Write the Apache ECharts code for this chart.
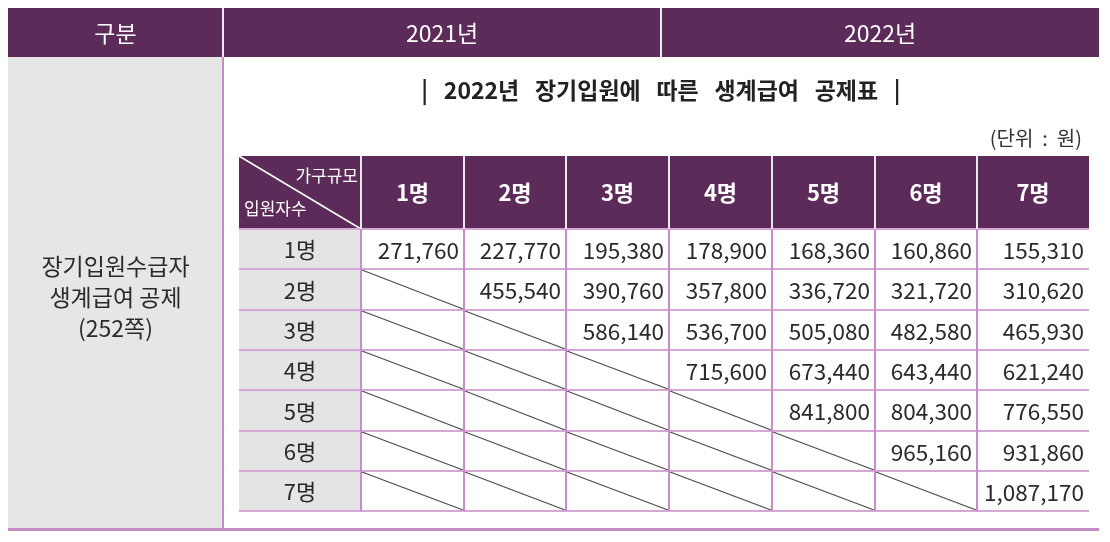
<!DOCTYPE html>
<html><head><meta charset="utf-8">
<script src="https://cdn.jsdelivr.net/npm/echarts@6/dist/echarts.min.js"></script>
<style>html,body{margin:0;padding:0;background:#fff}#chart{width:1110px;height:542px}</style>
</head><body><div id="chart"></div>
<script>
// ---------- data ----------
const sectionHeaders = ['구분', '2021년', '2022년'];
const sectionLabel = ['장기입원수급자', '생계급여 공제', '(252쪽)'];
const tableTitle = '|   2022년   장기입원에   따른   생계급여   공제표   |';
const unitLabel = '(단위  :  원)';
const cornerLabels = ['가구규모', '입원자수'];
const householdSizes = ['1명', '2명', '3명', '4명', '5명', '6명', '7명'];
const inpatientCounts = ['1명', '2명', '3명', '4명', '5명', '6명', '7명'];
const inpatient1 = [271760, 227770, 195380, 178900, 168360, 160860, 155310];
const inpatient2 = [null, 455540, 390760, 357800, 336720, 321720, 310620];
const inpatient3 = [null, null, 586140, 536700, 505080, 482580, 465930];
const inpatient4 = [null, null, null, 715600, 673440, 643440, 621240];
const inpatient5 = [null, null, null, null, 841800, 804300, 776550];
const inpatient6 = [null, null, null, null, null, 965160, 931860];
const inpatient7 = [null, null, null, null, null, null, 1087170];
const deductionRows = [inpatient1, inpatient2, inpatient3, inpatient4, inpatient5, inpatient6, inpatient7];

// ---------- style / layout ----------
const PURPLE = '#5C2B59', GRAY = '#E6E6E7', PINK = '#C98CCB', PINK_H = '#D6A6D7', TEXT = '#2A2A2A';
const FONT = '"Noto Sans CJK KR", "Noto Sans", sans-serif';
const outerColW = [215, 438, 438];
const outerRowH = [49, 474];
const colW = [122, 102.7, 102.7, 102.7, 102.7, 102.7, 102.7, 112];
const rowH = [73, 40.3, 40.3, 40.3, 40.3, 40.3, 40.3, 40.3];
function edges(w) { const e = [0]; w.forEach(v => e.push(e[e.length - 1] + v)); return e; }
const oc = edges(outerColW), orw = edges(outerRowH);
const ce = edges(colW), re = edges(rowH);

// ---------- outer frame items ----------
const outerItems = [];
sectionHeaders.forEach((t, i) => outerItems.push({ kind: 'section', col: i, row: 0, text: t }));
outerItems.push({ kind: 'side', col: 0, row: 1, text: sectionLabel.join('\n') });
outerItems.push({ kind: 'bottom', col: 0, row: 1 });

function renderOuter(params, api) {
  const it = outerItems[params.dataIndex];
  const c = api.value(0), r = api.value(1);
  const ch = [];
  if (it.kind === 'section') {
    const p0 = api.coord([oc[c], orw[r]]), p1 = api.coord([oc[c + 1], orw[r + 1]]);
    ch.push({ type: 'rect', shape: { x: p0[0], y: p0[1], width: p1[0] - p0[0], height: p1[1] - p0[1] }, style: { fill: PURPLE }, z2: 0 });
    if (c > 0) ch.push({ type: 'line', shape: { x1: p0[0], y1: p0[1], x2: p0[0], y2: p1[1] }, style: { stroke: '#F2ECF2', lineWidth: 2 }, z2: 5 });
    ch.push({ type: 'text', style: { text: it.text, x: (p0[0] + p1[0]) / 2, y: (p0[1] + p1[1]) / 2 + 1, align: 'center', verticalAlign: 'middle', fill: '#FFFFFF', fontSize: 23, fontFamily: FONT }, z2: 10 });
  } else if (it.kind === 'side') {
    const p0 = api.coord([oc[0], orw[1]]), p1 = api.coord([oc[1], orw[2]]);
    ch.push({ type: 'rect', shape: { x: p0[0], y: p0[1], width: p1[0] - p0[0], height: p1[1] - p0[1] }, style: { fill: GRAY }, z2: 0 });
    ch.push({ type: 'line', shape: { x1: p1[0], y1: p0[1], x2: p1[0], y2: p1[1] }, style: { stroke: PINK, lineWidth: 2 }, z2: 5 });
    ch.push({ type: 'text', style: { text: it.text, x: (p0[0] + p1[0]) / 2, y: 297, align: 'center', verticalAlign: 'middle', fill: TEXT, fontSize: 23, lineHeight: 31, fontFamily: FONT }, z2: 10 });
  } else {
    const p0 = api.coord([oc[0], orw[2]]), p1 = api.coord([oc[3], orw[2]]);
    ch.push({ type: 'line', shape: { x1: p0[0], y1: p0[1] - 1.5, x2: p1[0], y2: p1[1] - 1.5 }, style: { stroke: '#C58BC6', lineWidth: 3 }, z2: 5 });
  }
  return { type: 'group', children: ch };
}

// ---------- inner table cells ----------
const cells = [];
cells.push({ kind: 'corner', col: 0, row: 0 });
householdSizes.forEach((t, i) => cells.push({ kind: 'colHead', col: i + 1, row: 0, text: t }));
inpatientCounts.forEach((t, r) => {
  cells.push({ kind: 'rowHead', col: 0, row: r + 1, text: t });
  deductionRows[r].forEach((v, c) => cells.push({ kind: 'value', col: c + 1, row: r + 1, value: v }));
});
const lastCol = colW.length - 1;

function renderCell(params, api) {
  const it = cells[params.dataIndex];
  const c = api.value(0), r = api.value(1);
  const a = api.coord([ce[c], re[r]]), b = api.coord([ce[c + 1], re[r + 1]]);
  const x0 = Math.round(a[0]), y0 = Math.round(a[1]), x1 = Math.round(b[0]), y1 = Math.round(b[1]);
  const ch = [];
  const fill = (it.kind === 'corner' || it.kind === 'colHead') ? PURPLE : (it.kind === 'rowHead' ? '#E4E4E4' : '#FFFFFF');
  ch.push({ type: 'rect', shape: { x: x0, y: y0, width: x1 - x0, height: y1 - y0 }, style: { fill: fill }, z2: 0 });
  if (it.kind === 'corner' || it.kind === 'colHead') {
    if (c < lastCol) ch.push({ type: 'line', shape: { x1: x1, y1: y0, x2: x1, y2: y1 }, style: { stroke: '#EDE6ED', lineWidth: 2 }, z2: 6 });
  } else {
    if (c < lastCol) ch.push({ type: 'line', shape: { x1: x1, y1: y0, x2: x1, y2: y1 }, style: { stroke: PINK, lineWidth: 2 }, z2: 5 });
  }
  ch.push({ type: 'line', shape: { x1: x0, y1: y1, x2: x1, y2: y1 }, style: { stroke: PINK_H, lineWidth: 2 }, z2: 4 });
  if (it.kind === 'corner') {
    ch.push({ type: 'line', shape: { x1: x0, y1: y0, x2: x1, y2: y1 }, style: { stroke: '#FFFFFF', lineWidth: 1.5 }, z2: 3 });
    ch.push({ type: 'text', style: { text: cornerLabels[0], x: x1 - 3, y: y0 + 20, align: 'right', verticalAlign: 'middle', fill: '#FFFFFF', fontSize: 17, fontFamily: FONT }, z2: 10 });
    ch.push({ type: 'text', style: { text: cornerLabels[1], x: x0 + 5, y: y1 - 20, align: 'left', verticalAlign: 'middle', fill: '#FFFFFF', fontSize: 17, fontFamily: FONT }, z2: 10 });
  } else if (it.kind === 'colHead') {
    ch.push({ type: 'text', style: { text: it.text, x: (x0 + x1) / 2, y: (y0 + y1) / 2, align: 'center', verticalAlign: 'middle', fill: '#FFFFFF', fontSize: 22, fontWeight: 'bold', fontFamily: FONT }, z2: 10 });
  } else if (it.kind === 'rowHead') {
    ch.push({ type: 'text', style: { text: it.text, x: (x0 + x1) / 2, y: (y0 + y1) / 2 + 1, align: 'center', verticalAlign: 'middle', fill: TEXT, fontSize: 22, fontFamily: FONT }, z2: 10 });
  } else if (it.value == null) {
    ch.push({ type: 'line', shape: { x1: x0 + 1, y1: y0 + 1, x2: x1 - 1, y2: y1 - 1 }, style: { stroke: '#4A4A4A', lineWidth: 1.2 }, z2: 3 });
  } else {
    ch.push({ type: 'text', style: { text: it.value.toLocaleString('en-US'), x: x1 - 5, y: (y0 + y1) / 2 + 1, align: 'right', verticalAlign: 'middle', fill: TEXT, fontSize: 22.5, fontFamily: FONT }, z2: 10 });
  }
  return { type: 'group', children: ch };
}

const chart = echarts.init(document.getElementById('chart'));
chart.setOption({
  animation: false,
  backgroundColor: '#FFFFFF',
  title: [
    { text: tableTitle, left: 661, top: 79, textAlign: 'center', padding: 0,
      textStyle: { fontFamily: FONT, fontSize: 23, fontWeight: 'bold', color: '#222222' } },
    { text: unitLabel, right: 28, top: 128, padding: 0,
      textStyle: { fontFamily: FONT, fontSize: 20, fontWeight: 'normal', color: '#333333' } }
  ],
  grid: [
    { left: 8, top: 8, width: oc[oc.length - 1], height: orw[orw.length - 1] },
    { left: 239, top: 156, width: ce[ce.length - 1], height: re[re.length - 1] }
  ],
  xAxis: [
    { type: 'value', gridIndex: 0, min: 0, max: oc[oc.length - 1], show: false },
    { type: 'value', gridIndex: 1, min: 0, max: ce[ce.length - 1], show: false }
  ],
  yAxis: [
    { type: 'value', gridIndex: 0, min: 0, max: orw[orw.length - 1], inverse: true, show: false },
    { type: 'value', gridIndex: 1, min: 0, max: re[re.length - 1], inverse: true, show: false }
  ],
  series: [
    { type: 'custom', xAxisIndex: 0, yAxisIndex: 0, clip: false, silent: true,
      data: outerItems.map(d => [d.col, d.row]), renderItem: renderOuter },
    { type: 'custom', xAxisIndex: 1, yAxisIndex: 1, clip: false, silent: true,
      data: cells.map(d => [d.col, d.row]), renderItem: renderCell }
  ]
});
</script></body></html>
